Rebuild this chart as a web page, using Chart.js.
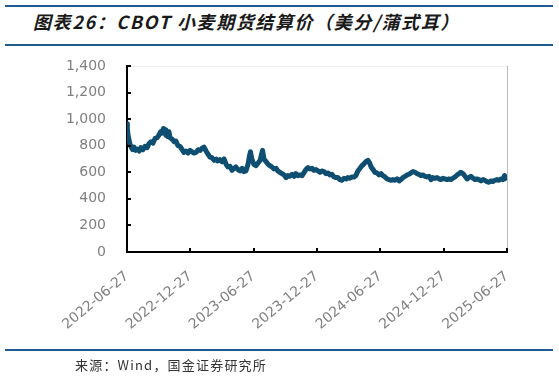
<!DOCTYPE html>
<html>
<head>
<meta charset="utf-8">
<script src="https://cdn.jsdelivr.net/npm/chart.js@4"></script>
<style>
  body { margin: 0; background: #fff; }
  #wrap { position: relative; width: 559px; height: 378px; overflow: hidden; }
  .rule { position: absolute; left: 5px; width: 548px; height: 2px; background: #1f5a8c; }
  #title { position: absolute; left: 33px; top: 8px; font: italic bold 18px "Noto Sans CJK SC", sans-serif; letter-spacing: 1.6px; color: #1a1a1a; white-space: nowrap; }
  #source { position: absolute; left: 75px; top: 355px; font: 13px "Noto Sans CJK SC", sans-serif; letter-spacing: 1.2px; color: #333; white-space: nowrap; }
  canvas { position: absolute; left: 0; top: 0; }
</style>
</head>
<body>
<div id="wrap">
  <div class="rule" style="top:5px"></div>
  <div id="title">图表26：CBOT 小麦期货结算价（美分/蒲式耳）</div>
  <div class="rule" style="top:44px"></div>
  <canvas id="wheat" width="559" height="378"></canvas>
  <div class="rule" style="top:349px"></div>
  <div id="source">来源：Wind，国金证券研究所</div>
</div>
<script>
// dates are kept as day offsets from the first settlement date
var startDate = '2022-06-27';
var tickLabels = ['2022-06-27', '2022-12-27', '2023-06-27', '2023-12-27', '2024-06-27', '2024-12-27', '2025-06-27'];

var dayOffsets = [
  0, 1, 3, 6, 9, 12, 16, 20, 25, 29, 35, 40, 46, 52, 58, 63, 69, 75, 81, 87,
  92, 97, 101, 105, 110, 112, 117, 121, 124, 130, 136, 141, 147, 153, 159, 164, 170, 176, 182, 187,
  193, 199, 205, 211, 216, 222, 228, 234, 239, 245, 251, 257, 262, 268, 274, 280, 286, 291, 297, 303,
  309, 314, 320, 326, 332, 337, 343, 349, 353, 356, 360, 366, 372, 378, 384, 388, 391, 395, 401, 407,
  412, 418, 424, 430, 435, 441, 447, 453, 459, 464, 470, 476, 482, 487, 493, 499, 505, 510, 516, 522,
  528, 534, 539, 545, 551, 557, 562, 568, 574, 580, 585, 591, 597, 603, 608, 614, 620, 626, 632, 637,
  643, 649, 655, 660, 666, 672, 678, 684, 689, 695, 699, 704, 710, 715, 721, 727, 733, 738, 744, 750,
  756, 761, 767, 773, 779, 785, 790, 796, 802, 808, 813, 819, 825, 831, 836, 842, 848, 854, 859, 865,
  871, 877, 882, 888, 894, 900, 905, 911, 917, 923, 929, 934, 940, 946, 952, 958, 963, 969, 975, 981,
  986, 992, 998, 1004, 1009, 1015, 1021, 1027, 1032, 1038, 1044, 1050, 1055, 1061, 1067, 1073, 1079, 1084, 1089, 1092,
  1096
];

var prices = [
  965, 930, 880, 840, 810, 790, 770, 790, 765, 775, 760, 785, 770, 795, 785, 815, 830, 820, 855, 860,
  880, 905, 895, 930, 920, 880, 870, 905, 860, 850, 830, 835, 800, 795, 770, 750, 760, 745, 765, 755,
  745, 750, 770, 765, 780, 790, 760, 735, 715, 710, 690, 700, 685, 695, 680, 700, 660, 640, 645, 615,
  630, 640, 620, 610, 630, 605, 610, 660, 720, 755, 700, 660, 650, 670, 690, 735, 765, 700, 680, 660,
  650, 640, 625, 630, 610, 600, 590, 580, 560, 575, 570, 585, 570, 590, 575, 580, 575, 595, 620, 635,
  625, 630, 615, 620, 610, 600, 610, 605, 590, 595, 580, 585, 565, 560, 560, 545, 540, 555, 550, 560,
  555, 565, 565, 575, 610, 630, 650, 665, 680, 690, 675, 640, 620, 600, 595, 580, 590, 575, 565, 550,
  545, 540, 545, 540, 550, 535, 545, 560, 570, 580, 585, 595, 605, 600, 590, 585, 575, 580, 570, 565,
  570, 545, 560, 555, 560, 550, 545, 555, 550, 545, 550, 545, 555, 565, 580, 590, 600, 590, 570, 550,
  560, 570, 555, 545, 550, 545, 535, 545, 540, 530, 525, 535, 530, 540, 545, 540, 550, 545, 575, 560,
  540
];

var dayMs = 24 * 3600 * 1000;
function dayOf(label) {
  return Math.round((Date.parse(label) - Date.parse(startDate)) / dayMs);
}
var tickDays = tickLabels.map(dayOf);

var points = dayOffsets.map(function (d, i) {
  return { x: d, y: prices[i] };
});

// inward tick marks plus the light frame on top and right
var frame = {
  id: 'frame',
  afterDraw: function (chart) {
    var ctx = chart.ctx;
    var a = chart.chartArea;
    ctx.save();
    ctx.lineWidth = 1;
    ctx.strokeStyle = '#f0f0f0';
    ctx.beginPath();
    ctx.moveTo(a.left, a.top + 0.5);
    ctx.lineTo(a.right, a.top + 0.5);
    ctx.stroke();
    ctx.strokeStyle = '#bdbdbd';
    ctx.beginPath();
    ctx.moveTo(a.right + 0.5, a.top);
    ctx.lineTo(a.right + 0.5, a.bottom);
    ctx.stroke();

    ctx.strokeStyle = '#000';
    ctx.lineWidth = 2;
    chart.scales.y.ticks.forEach(function (t) {
      var py = Math.round(chart.scales.y.getPixelForValue(t.value));
      ctx.beginPath();
      ctx.moveTo(a.left, py);
      ctx.lineTo(a.left + 4, py);
      ctx.stroke();
    });
    tickDays.forEach(function (d) {
      var px = Math.round(chart.scales.x.getPixelForValue(d));
      ctx.beginPath();
      ctx.moveTo(px, a.bottom);
      ctx.lineTo(px, a.bottom - 4);
      ctx.stroke();
    });
    ctx.restore();
  }
};

var ctx = document.getElementById('wheat').getContext('2d');
var wheatChart = new Chart(ctx, {
  type: 'line',
  data: {
    datasets: [
      {
        label: 'CBOT小麦期货结算价',
        data: points,
        borderColor: '#0d4e71',
        borderWidth: 5,
        borderJoinStyle: 'round',
        pointRadius: 0,
        tension: 0,
        fill: false,
      },
    ],
  },
  options: {
    responsive: false,
    animation: false,
    devicePixelRatio: 1,
    layout: {
      padding: { top: 66, right: 52, bottom: 0, left: 0 },
    },
    plugins: {
      legend: { display: false },
      tooltip: { enabled: false },
    },
    scales: {
      x: {
        type: 'linear',
        min: 0,
        max: tickDays[tickDays.length - 1],
        afterFit: function (scale) {
          scale.height = 126;
        },
        afterBuildTicks: function (scale) {
          scale.ticks = tickDays.map(function (d) {
            return { value: d };
          });
        },
        grid: { display: false, drawTicks: false },
        border: { display: true, color: '#000', width: 2 },
        ticks: {
          autoSkip: false,
          minRotation: 40,
          maxRotation: 40,
          padding: 16,
          color: '#808080',
          font: { family: 'DejaVu Sans', size: 14 },
          callback: function (value) {
            var i = tickDays.indexOf(value);
            return i >= 0 ? tickLabels[i] : '';
          },
        },
      },
      y: {
        min: 0,
        max: 1400,
        afterFit: function (scale) {
          scale.width = 127;
        },
        grid: { display: false, drawTicks: false },
        border: { display: true, color: '#000', width: 2 },
        ticks: {
          stepSize: 200,
          padding: 21,
          color: '#808080',
          font: { family: 'DejaVu Sans', size: 14 },
          callback: function (value) {
            return value.toLocaleString('en-US');
          },
        },
      },
    },
  },
  plugins: [frame],
});
</script>
</body>
</html>
